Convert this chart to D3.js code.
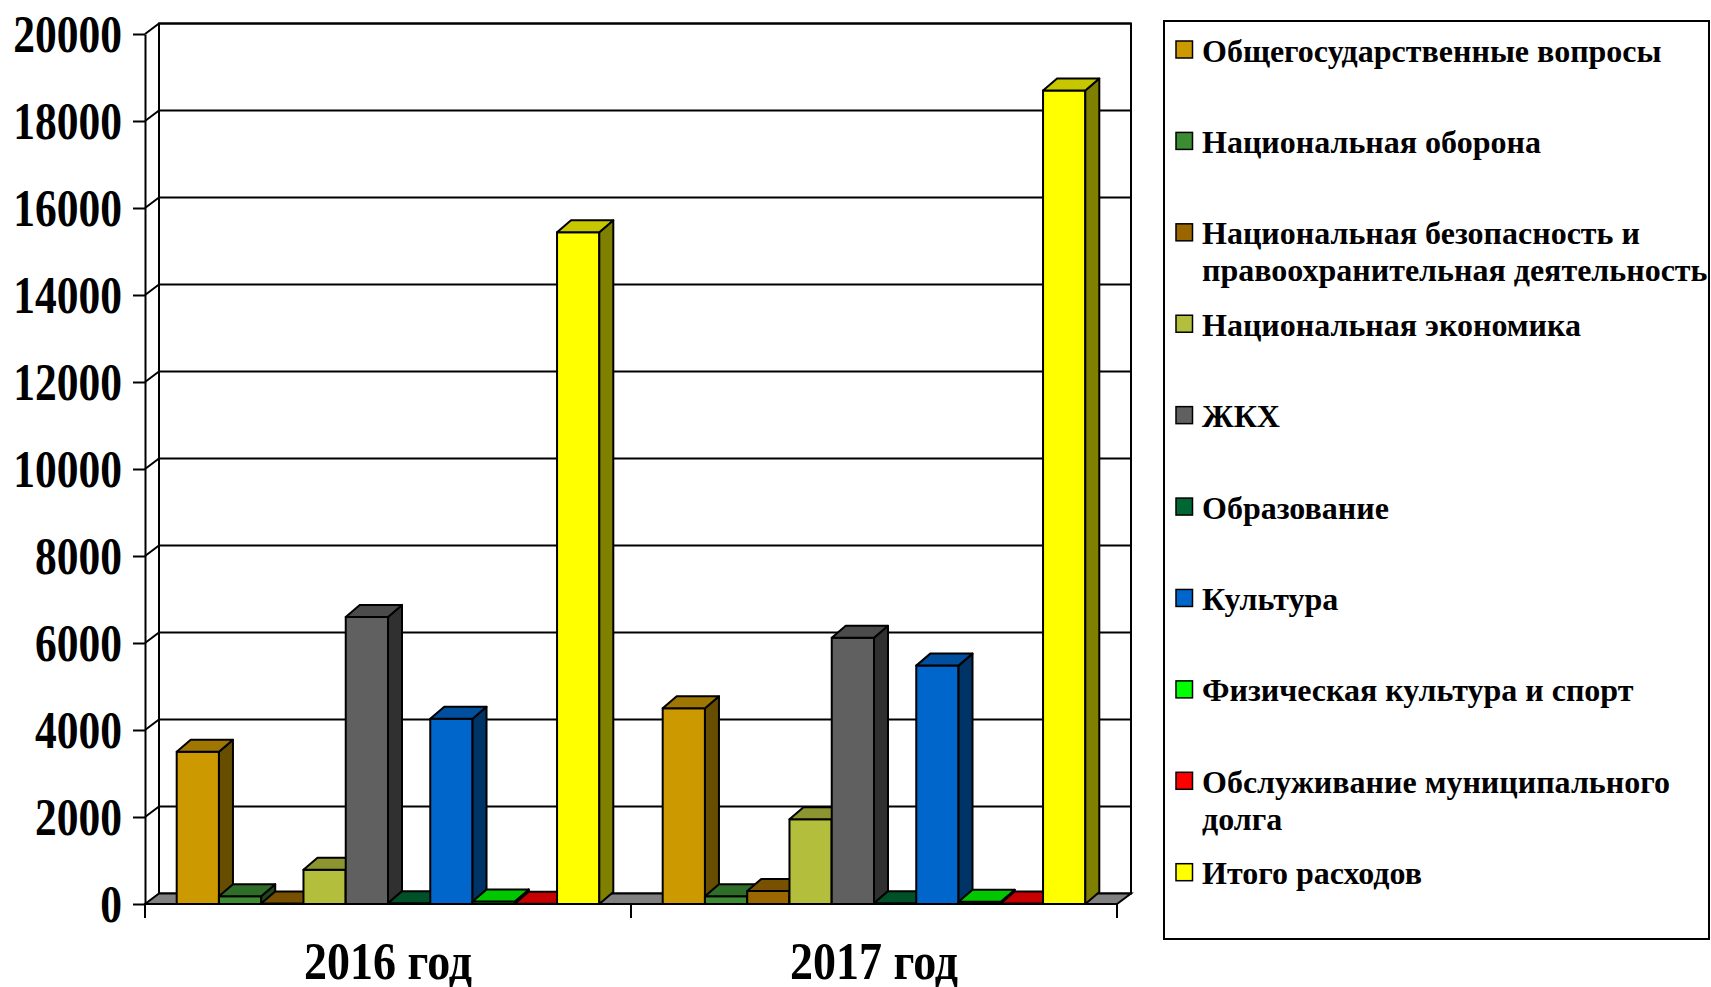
<!DOCTYPE html>
<html lang="ru">
<head>
    <meta charset="UTF-8">
    <title>Расходы бюджета</title>
    <script src="https://cdn.jsdelivr.net/npm/d3@7"></script>
    <style>
        body { margin: 0; background: #fff; }
        text { font-family: "Liberation Serif", "Times New Roman", serif; font-weight: bold; fill: #000; }
    </style>
</head>
<body>
<script>
    var categories = ["2016 год", "2017 год"];
    var seriesNames = [
        "Общегосударственные вопросы",
        "Национальная оборона",
        "Национальная безопасность и\nправоохранительная деятельность",
        "Национальная экономика",
        "ЖКХ",
        "Образование",
        "Культура",
        "Физическая культура и спорт",
        "Обслуживание муниципального\nдолга",
        "Итого расходов"
    ];
    var values2016 = [3500, 180, 10, 790, 6600, 20, 4260, 60, 5, 15440];
    var values2017 = [4500, 180, 300, 1950, 6120, 20, 5480, 50, 10, 18700];
    var yTicks = [0, 2000, 4000, 6000, 8000, 10000, 12000, 14000, 16000, 18000, 20000];

    var colors = ["#CC9900", "#3C8C34", "#996600", "#B3BF3C", "#606060",
                  "#006633", "#0066CC", "#00FF00", "#FF0000", "#FFFF00"];

    var width = 1711, height = 987;
    var wallDx = 14, wallDy = 10.5;   // depth of the walls
    var barDx = 14, barDy = 12;       // depth of the columns

    var svg = d3.select("body").append("svg")
        .attr("width", width)
        .attr("height", height);

    var x0 = d3.scaleBand().domain(categories).range([145, 1117]);
    var x1 = d3.scaleBand().domain(seriesNames).range([0, x0.bandwidth()])
        .paddingInner(0).paddingOuter(0.75);
    var y = d3.scaleLinear().domain([0, 20000]).range([904, 34]);

    function shade(c, f) {
        var r = d3.rgb(c);
        return d3.rgb(r.r * f, r.g * f, r.b * f).formatHex();
    }

    var left = x0.range()[0], right = x0.range()[1];
    var base = y(0);

    // back wall
    svg.append("rect")
        .attr("x", left + wallDx)
        .attr("y", y(20000) - wallDy)
        .attr("width", right - left)
        .attr("height", base - y(20000))
        .attr("fill", "#fff")
        .attr("stroke", "#000")
        .attr("stroke-width", 2);

    // grid lines on side and back wall
    svg.selectAll(".grid")
        .data(yTicks.slice(1))
        .enter()
        .append("polyline")
        .attr("class", "grid")
        .attr("points", function (d) {
            return [[left, y(d)], [left + wallDx, y(d) - wallDy], [right + wallDx, y(d) - wallDy]].join(" ");
        })
        .attr("fill", "none")
        .attr("stroke", "#000")
        .attr("stroke-width", 2);

    // floor
    svg.append("polygon")
        .attr("points", [[left, base], [right, base], [right + wallDx, base - wallDy], [left + wallDx, base - wallDy]].join(" "))
        .attr("fill", "#808080")
        .attr("stroke", "#000")
        .attr("stroke-width", 2);

    // columns
    var data = [values2016, values2017];
    var bars = [];
    categories.forEach(function (cat, ci) {
        seriesNames.forEach(function (name, si) {
            bars.push({ cat: cat, name: name, value: data[ci][si], color: colors[si] });
        });
    });

    var bar = svg.selectAll(".bar")
        .data(bars)
        .enter()
        .append("g")
        .attr("class", "bar")
        .attr("stroke", "#000")
        .attr("stroke-width", 2)
        .attr("stroke-linejoin", "round");

    bar.append("rect")
        .attr("x", function (d) { return x0(d.cat) + x1(d.name); })
        .attr("y", function (d) { return y(d.value); })
        .attr("width", x1.bandwidth())
        .attr("height", function (d) { return base - y(d.value); })
        .attr("fill", function (d) { return d.color; });

    bar.append("polygon")
        .attr("points", function (d) {
            var xr = x0(d.cat) + x1(d.name) + x1.bandwidth(), yt = y(d.value);
            return [[xr, yt], [xr + barDx, yt - barDy], [xr + barDx, base - barDy], [xr, base]].join(" ");
        })
        .attr("fill", function (d) { return shade(d.color, 0.5); });

    bar.append("polygon")
        .attr("points", function (d) {
            var xl = x0(d.cat) + x1(d.name), xr = xl + x1.bandwidth(), yt = y(d.value);
            return [[xl, yt], [xl + barDx, yt - barDy], [xr + barDx, yt - barDy], [xr, yt]].join(" ");
        })
        .attr("fill", function (d) { return shade(d.color, 0.78); });

    // value axis on the front edge
    var yAxis = svg.append("g")
        .attr("transform", "translate(" + left + ",0)")
        .call(d3.axisLeft(y).tickValues(yTicks).tickFormat(d3.format("d"))
            .tickSize(12).tickSizeOuter(0).tickPadding(11));
    yAxis.selectAll("path, line").attr("stroke", "#000").attr("stroke-width", 2);
    yAxis.selectAll("text")
        .attr("font-size", 43.5)
        .attr("font-family", "Liberation Serif")
        .attr("dy", "0.33em")
        .attr("y", 0)
        .attr("transform", "scale(1,1.19)");

    // category axis
    svg.append("line")
        .attr("x1", left).attr("x2", left)
        .attr("y1", base).attr("y2", base + 14)
        .attr("stroke", "#000").attr("stroke-width", 2);
    svg.selectAll(".xtick")
        .data(categories)
        .enter()
        .append("line")
        .attr("class", "xtick")
        .attr("x1", function (d) { return x0(d) + x0.bandwidth(); })
        .attr("x2", function (d) { return x0(d) + x0.bandwidth(); })
        .attr("y1", base)
        .attr("y2", base + 14)
        .attr("stroke", "#000")
        .attr("stroke-width", 2);
    svg.append("line")
        .attr("x1", left).attr("x2", right)
        .attr("y1", base).attr("y2", base)
        .attr("stroke", "#000").attr("stroke-width", 2);

    svg.selectAll(".xlabel")
        .data(categories)
        .enter()
        .append("text")
        .attr("class", "xlabel")
        .attr("text-anchor", "middle")
        .attr("font-size", 46)
        .attr("transform", function (d) {
            return "translate(" + (x0(d) + x0.bandwidth() / 2) + ",979) scale(1,1.14)";
        })
        .text(function (d) { return d; });

    // legend
    var legend = svg.append("g");
    legend.append("rect")
        .attr("x", 1164)
        .attr("y", 21)
        .attr("width", 545)
        .attr("height", 918)
        .attr("fill", "#fff")
        .attr("stroke", "#000")
        .attr("stroke-width", 2);

    var ly = d3.scalePoint().domain(seriesNames).range([49.5, 872.2]);

    var item = legend.selectAll(".item")
        .data(seriesNames)
        .enter()
        .append("g")
        .attr("class", "item")
        .attr("transform", function (d) { return "translate(1176," + ly(d) + ")"; });

    item.append("rect")
        .attr("x", 0)
        .attr("y", -8.5)
        .attr("width", 16.5)
        .attr("height", 17)
        .attr("fill", function (d, i) { return colors[i]; })
        .attr("stroke", "#000")
        .attr("stroke-width", 1.5);

    item.append("text")
        .attr("font-size", 32)
        .attr("transform", "translate(26,12)")
        .each(function (d) {
            var t = d3.select(this);
            d.split("\n").forEach(function (line, i) {
                t.append("tspan")
                    .attr("x", 0)
                    .attr("dy", i === 0 ? 0 : 37)
                    .text(line);
            });
        });
</script>
</body>
</html>
